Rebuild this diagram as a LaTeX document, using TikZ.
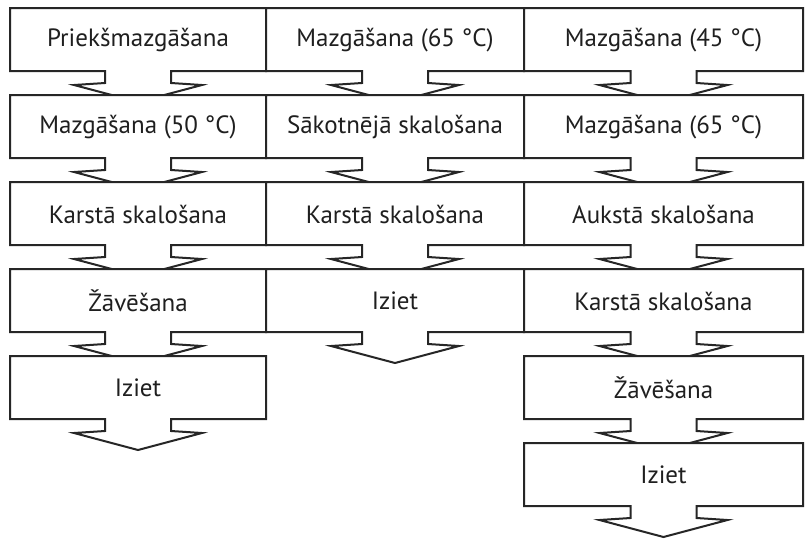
\documentclass[tikz,border=0pt]{standalone}
\usepackage{fontspec}
\setmainfont{PT Sans}
\usepackage{tikz}
\usepackage{xcolor}

\tikzset{
  boxline/.style={draw=black!85,fill=white,line width=2pt,line join=miter},
  boxtext/.style={text=black!88,font=\fontsize{25}{29}\selectfont,inner sep=0pt,anchor=center}
}
\newcommand\flowbox[5]{%
  \pgfmathsetmacro\xc{(#2+#3)/2}%
  \pgfmathsetmacro\yb{#4+63}%
  \filldraw[boxline] (#2,#4) -- (#3,#4) -- (#3,\yb) -- (\xc+33,\yb) -- (\xc+33,\yb+12)
    -- (\xc+64,\yb+14) -- (\xc,\yb+31) -- (\xc-64,\yb+14) -- (\xc-33,\yb+12)
    -- (\xc-33,\yb) -- (#2,\yb) -- cycle;
  \node[boxtext] (#1) at (\xc,#4+32) {#5};%
}

\begin{document}
\begin{tikzpicture}[x=1pt,y=-1pt]
\useasboundingbox (0,0) rectangle (807,542);
\flowbox{a1}{10}{266}{8}{Priekšmazgāšana}
\flowbox{b1}{266}{524}{8}{Mazgāšana (65 °C)}
\flowbox{c1}{524}{803}{8}{Mazgāšana (45 °C)}
\flowbox{a2}{10}{266}{95}{Mazgāšana (50 °C)}
\flowbox{b2}{266}{524}{95}{Sākotnējā skalošana}
\flowbox{c2}{524}{803}{95}{Mazgāšana (65 °C)}
\flowbox{a3}{10}{266}{182}{Karstā skalošana}
\flowbox{b3}{266}{524}{182}{Karstā skalošana}
\flowbox{c3}{524}{803}{182}{Aukstā skalošana}
\flowbox{a4}{10}{266}{269}{Žāvēšana}
\flowbox{b4}{266}{524}{269}{Iziet}
\flowbox{c4}{524}{803}{269}{Karstā skalošana}
\flowbox{a5}{10}{266}{356}{Iziet}
\flowbox{c5}{524}{803}{356}{Žāvēšana}
\flowbox{c6}{524}{803}{443}{Iziet}
\end{tikzpicture}
\end{document}
